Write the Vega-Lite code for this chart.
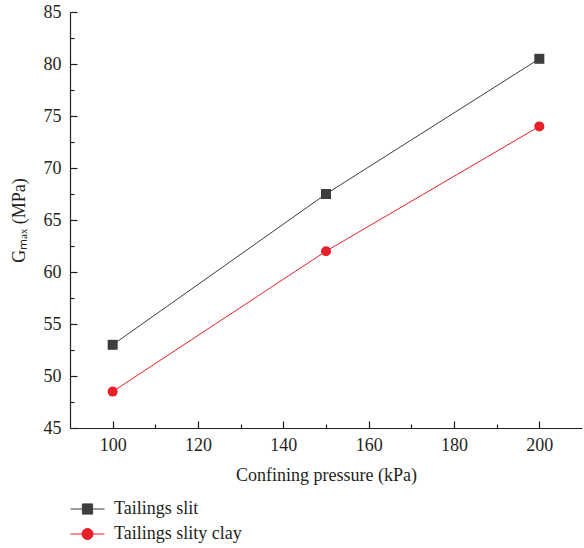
{
  "$schema": "https://vega.github.io/schema/vega-lite/v6.json",
  "width": 512,
  "height": 416,
  "autosize": "none",
  "padding": {"left": 70, "top": 12, "right": 2, "bottom": 120},
  "background": "white",
  "config": {
    "view": {"stroke": null},
    "font": "Liberation Serif",
    "axis": {"labelFont": "Liberation Serif", "titleFont": "Liberation Serif", "labelFontSize": 18, "titleFontSize": 18, "labelColor": "#231f20", "titleColor": "#231f20", "titleFontWeight": "normal", "domainColor": "#231f20", "tickColor": "#231f20", "domainWidth": 1.2, "tickWidth": 1.2, "grid": false},
    "legend": {"labelFont": "Liberation Serif", "labelFontSize": 18, "labelColor": "#231f20", "symbolStrokeWidth": 1}
  },
  "data": {"values": [
    {"p": 100, "g": 53, "s": "Tailings slit"},
    {"p": 150, "g": 67.5, "s": "Tailings slit"},
    {"p": 200, "g": 80.5, "s": "Tailings slit"},
    {"p": 100, "g": 48.5, "s": "Tailings slity clay"},
    {"p": 150, "g": 62, "s": "Tailings slity clay"},
    {"p": 200, "g": 74, "s": "Tailings slity clay"}
  ]},
  "encoding": {
    "x": {"field": "p", "type": "quantitative", "scale": {"domain": [90, 210], "nice": false, "zero": false},
      "axis": {"title": "Confining pressure (kPa)", "values": [100,110,120,130,140,150,160,170,180,190,200],
        "labelExpr": "datum.value % 20 === 0 ? datum.label : ''",
        "tickSize": {"condition": {"test": "datum.value % 20 === 0", "value": -7}, "value": -4},
        "labelPadding": 15, "titlePadding": 12}},
    "y": {"field": "g", "type": "quantitative", "scale": {"domain": [45, 85], "nice": false, "zero": false},
      "axis": {"title": "Gₘₐₓ (MPa)", "values": [45,47.5,50,52.5,55,57.5,60,62.5,65,67.5,70,72.5,75,77.5,80,82.5,85],
        "labelExpr": "datum.value % 5 === 0 ? datum.label : ''",
        "tickSize": {"condition": {"test": "datum.value % 5 === 0", "value": -7}, "value": -4},
        "labelPadding": 16, "titlePadding": 15}}
  },
  "layer": [
    {"transform": [{"filter": "datum.s === 'Tailings slit'"}],
      "mark": {"type": "line", "strokeWidth": 1, "color": "#3d3d3d"}},
    {"transform": [{"filter": "datum.s === 'Tailings slity clay'"}],
      "mark": {"type": "line", "strokeWidth": 1, "color": "#e8202a"}},
    {"transform": [{"filter": "datum.s === 'Tailings slit'"}],
      "mark": {"type": "point", "shape": "square", "filled": true, "opacity": 1, "size": 100, "color": "#3d3d3d"}},
    {"transform": [{"filter": "datum.s === 'Tailings slity clay'"}],
      "mark": {"type": "point", "shape": "circle", "filled": true, "opacity": 1, "size": 100, "color": "#e8202a"}},
    {"transform": [{"filter": "false"}],
      "mark": {"type": "point", "filled": true, "opacity": 1, "size": 289, "strokeWidth": 1},
      "encoding": {
        "color": {"field": "s", "type": "nominal", "scale": {"domain": ["Tailings slit", "Tailings slity clay"], "range": ["#3d3d3d", "#e8202a"]},
          "legend": {"title": null, "orient": "none", "legendX": 8.5, "legendY": 488, "padding": 0, "labelOffset": 17.5, "rowPadding": 7, "symbolSize": 289}},
        "stroke": {"field": "s", "type": "nominal", "scale": {"domain": ["Tailings slit", "Tailings slity clay"], "range": ["#3d3d3d", "#e8202a"]},
          "legend": {"title": null, "orient": "none", "legendX": 8.5, "legendY": 488, "padding": 0, "labelOffset": 17.5, "rowPadding": 7, "symbolSize": 289}},
        "shape": {"field": "s", "type": "nominal", "scale": {"domain": ["Tailings slit", "Tailings slity clay"], "range": ["M-2,0H2M-0.6,-0.6H0.6V0.6H-0.6Z", "M-2,0H2M0.65,0A0.65,0.65 0 1,1 -0.65,0A0.65,0.65 0 1,1 0.65,0Z"]},
          "legend": {"title": null, "orient": "none", "legendX": 8.5, "legendY": 488, "padding": 0, "labelOffset": 17.5, "rowPadding": 7, "symbolSize": 289}}
      }}
  ]
}
